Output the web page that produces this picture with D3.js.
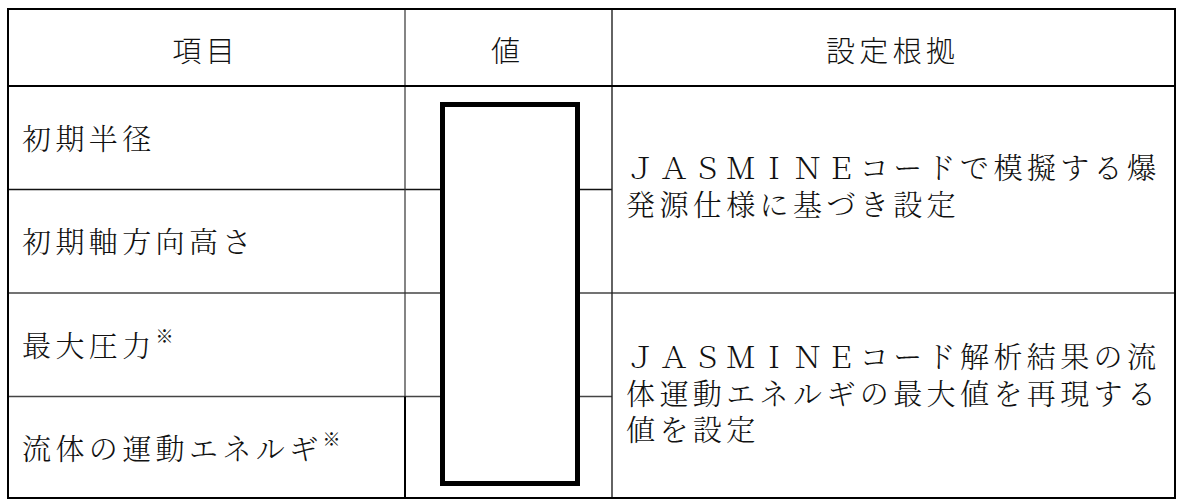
<!DOCTYPE html>
<html><head><meta charset="utf-8">
<script src="https://cdn.jsdelivr.net/npm/d3@7/dist/d3.min.js"></script>
<style>html,body{margin:0;padding:0;background:#fff;} svg{display:block;}</style>
</head><body>
<svg id="c" width="1181" height="500"></svg>
<script>
// ---- data ----
const headers = ["項目", "値", "設定根拠"];
const items = ["初期半径", "初期軸方向高さ", "最大圧力※", "流体の運動エネルギ※"];
const basisGroups = [
  { rows: [0, 1], lines: ["ＪＡＳＭＩＮＥコードで模擬する爆", "発源仕様に基づき設定"] },
  { rows: [2, 3], lines: ["ＪＡＳＭＩＮＥコード解析結果の流", "体運動エネルギの最大値を再現する", "値を設定"] }
];

// ---- layout ----
const svg = d3.select("#c");
const colEdges = [8, 405, 612, 1175];
const tableTop = 9, headBottom = 86, tableBottom = 498;
const y = d3.scaleLinear().domain([0, items.length]).range([headBottom, 500]);
const fontSans = "'Noto Sans CJK JP', 'Noto Sans', sans-serif";
const fontBody = "'Noto Serif CJK JP', 'Noto Sans CJK JP', 'Noto Sans', sans-serif";
const fs = 29, ls = 4.4, lineH = 36.5;

const line = (x1, y1, x2, y2, w, c) => svg.append("line")
  .attr("x1", x1).attr("y1", y1).attr("x2", x2).attr("y2", y2)
  .attr("stroke", c || "#000").attr("stroke-width", w);

// inner horizontal lines (basis column merged across row pairs)
[1, 3].forEach(i => line(colEdges[0], y(i), colEdges[2], y(i), 1.4, i === 3 ? "#444" : "#111"));
line(colEdges[0], y(2), colEdges[3], y(2), 1.4, "#444");
// column dividers
line(colEdges[1], tableTop, colEdges[1], y(3), 1.2, "#333");
line(colEdges[1], y(3), colEdges[1], tableBottom, 2, "#000");
line(colEdges[2], tableTop, colEdges[2], tableBottom, 1.4, "#222");
// header bottom
line(colEdges[0], headBottom, colEdges[3], headBottom, 2.2, "#000");
// outer frame
svg.append("rect").attr("x", colEdges[0]).attr("y", tableTop)
  .attr("width", colEdges[3] - colEdges[0]).attr("height", tableBottom - tableTop)
  .attr("fill", "none").attr("stroke", "#000").attr("stroke-width", 2);

// redaction box in value column
svg.append("rect")
  .attr("x", colEdges[1] + 37.5).attr("y", 104.5)
  .attr("width", 135).attr("height", 379)
  .attr("fill", "#fff").attr("stroke", "#000").attr("stroke-width", 5);

// header texts
svg.selectAll("text.h").data(headers).join("text").attr("class", "h")
  .attr("x", (d, i) => (colEdges[i] + colEdges[i + 1]) / 2 + ls / 2 - 3)
  .attr("y", (tableTop + headBottom) / 2 + 1)
  .attr("text-anchor", "middle").attr("dominant-baseline", "central")
  .attr("font-family", fontSans).attr("font-size", fs).attr("font-weight", 300)
  .attr("letter-spacing", ls).attr("fill", "#111")
  .text(d => d);

// item texts
const itemText = svg.selectAll("text.it").data(items).join("text").attr("class", "it")
  .attr("x", colEdges[0] + 14)
  .attr("y", (d, i) => (y(i) + y(i + 1)) / 2 - 1)
  .attr("dominant-baseline", "central")
  .attr("font-family", fontBody).attr("font-size", fs).attr("font-weight", 300)
  .attr("letter-spacing", ls).attr("fill", "#111");
itemText.each(function(d) {
  const t = d3.select(this);
  const m = d.match(/^(.*?)(※?)$/);
  t.append("tspan").text(m[1]);
  if (m[2]) t.append("tspan").attr("font-size", 18).attr("dy", -9).text(m[2]);
});

// basis texts (one text block per merged cell, one tspan per line)
basisGroups.forEach(g => {
  const mid = (y(g.rows[0]) + y(g.rows[g.rows.length - 1] + 1)) / 2 - 5;
  const n = g.lines.length;
  const x0 = colEdges[2] + 14;
  svg.append("text")
    .attr("x", x0)
    .attr("y", mid - (n - 1) / 2 * lineH)
    .attr("dominant-baseline", "central")
    .attr("font-family", fontBody).attr("font-size", fs).attr("font-weight", 300)
    .attr("letter-spacing", ls).attr("fill", "#111")
    .selectAll("tspan").data(g.lines).join("tspan")
    .attr("x", x0)
    .attr("dy", (d, i) => i === 0 ? 0 : lineH)
    .text(d => d);
});
</script>
</body></html>
